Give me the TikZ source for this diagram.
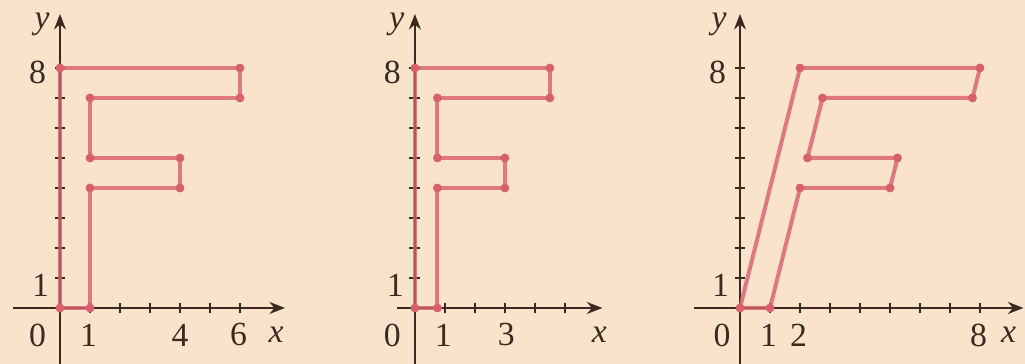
\documentclass[tikz,border=0pt]{standalone}
\usepackage{fontspec}
\setmainfont{Liberation Serif}
\usepackage{xcolor}
\usepackage{tikz}
\usetikzlibrary{arrows.meta}

\definecolor{paper}{HTML}{FAE3CB}
\definecolor{fred}{HTML}{D8606C}
\definecolor{ink}{HTML}{3A2A22}

% the letter F and its corner points
\newcommand\drawF{%
  \draw[fline] (0,0) -- (1,0) -- (1,4) -- (4,4) -- (4,5) -- (1,5) -- (1,7)
    -- (6,7) -- (6,8) -- (0,8) -- cycle;
  \foreach \p in {(0,0),(1,0),(1,4),(4,4),(4,5),(1,5),(1,7),(6,7),(6,8),(0,8)}
    \node[fdot] at \p {};
}

\begin{document}
\begin{tikzpicture}[x=0.5cm, y=0.5cm,
  fline/.style={fred, line width=1.9pt, line join=round, opacity=0.8},
  fdot/.style={circle, fill=fred, inner sep=0pt, minimum size=4.2pt},
  axis/.style={ink, line width=0.9pt, -{Stealth[length=2.6mm, width=2mm]}},
  tick/.style={ink, line width=0.7pt},
  every node/.style={font=\fontsize{16}{18}\selectfont, text=ink}]
  \fill[paper] (0,0) rectangle (34.167,12.133);
  \useasboundingbox (0,0) rectangle (34.167,12.133);

  % original
  \begin{scope}[shift={(2,1.867)}]
    \draw[axis] (-1.55,0) -- (7.5,0);
    \draw[axis] (0,-1.867) -- (0,9.8);
    \foreach \i in {1,...,6} \draw[tick] (\i,-0.18) -- (\i,0.18);
    \foreach \j in {1,...,8} \draw[tick] (-0.18,\j) -- (0.18,\j);
    \drawF
    \node (ya) at (-0.6,9.45) {\itshape y};
    \node (xa) at (7.2,-0.9) {\itshape x};
    \node (za) at (-0.75,-0.9) {0};
    \node (ea) at (-0.75,7.85) {8};
    \node (oa) at (-0.65,0.75) {1};
    \node (xa1) at (0.95,-0.9) {1};
    \node (xa4) at (4,-0.9) {4};
    \node (xa6) at (5.95,-0.9) {6};
  \end{scope}

  % squeezed sideways
  \begin{scope}[shift={(13.83,1.867)}]
    \draw[axis] (-0.6,0) -- (6.25,0);
    \draw[axis] (0,-1.867) -- (0,9.8);
    \foreach \i in {1,...,5} \draw[tick] (\i,-0.18) -- (\i,0.18);
    \foreach \j in {1,...,8} \draw[tick] (-0.18,\j) -- (0.18,\j);
    \begin{scope}[xscale=0.75]
      \drawF
    \end{scope}
    \node (yb) at (-0.6,9.45) {\itshape y};
    \node (xb) at (6.15,-0.9) {\itshape x};
    \node (zb) at (-0.75,-0.9) {0};
    \node (eb) at (-0.75,7.85) {8};
    \node (ob) at (-0.65,0.75) {1};
    \node (xb1) at (0.95,-0.9) {1};
    \node (xb3) at (3.05,-0.9) {3};
  \end{scope}

  % sheared
  \begin{scope}[shift={(24.667,1.867)}]
    \draw[axis] (-1.55,0) -- (9.45,0);
    \draw[axis] (0,-1.867) -- (0,9.8);
    \foreach \i in {1,...,8} \draw[tick] (\i,-0.18) -- (\i,0.18);
    \foreach \j in {1,...,8} \draw[tick] (-0.18,\j) -- (0.18,\j);
    \begin{scope}[cm={1,0,0.25,1,(0,0)}]
      \drawF
    \end{scope}
    \node (yc) at (-0.7,9.45) {\itshape y};
    \node (xc) at (8.95,-0.9) {\itshape x};
    \node (zc) at (-0.6,-0.9) {0};
    \node (ec) at (-0.75,7.85) {8};
    \node (oc) at (-0.65,0.75) {1};
    \node (xc1) at (0.95,-0.9) {1};
    \node (xc2) at (1.95,-0.9) {2};
    \node (xc8) at (7.95,-0.9) {8};
  \end{scope}
\end{tikzpicture}
\end{document}
